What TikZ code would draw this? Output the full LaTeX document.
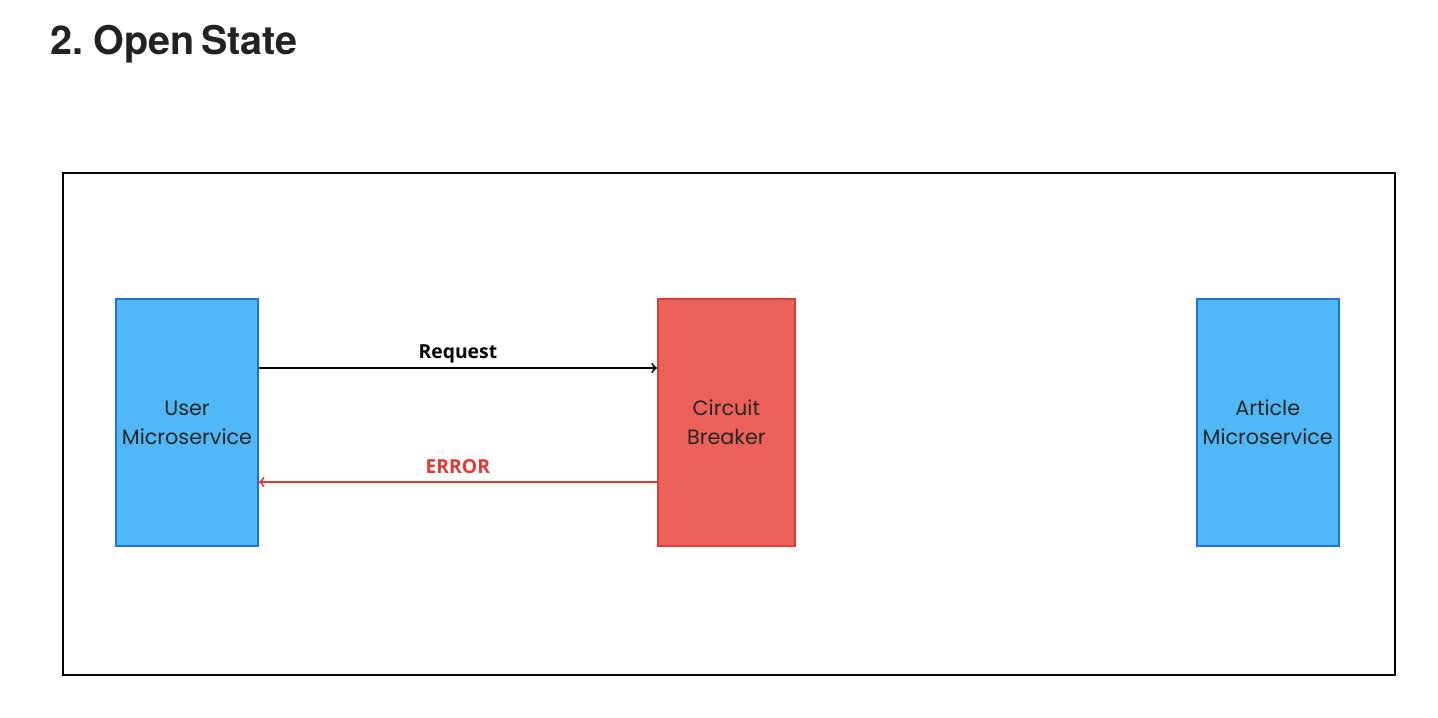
\documentclass[tikz,border=0pt]{standalone}
\usepackage{fontspec}
\usepackage{tikz}
\usetikzlibrary{arrows,calc,positioning}
\newfontfamily\boxfont{Poppins}
\newfontfamily\labelfont{Open Sans}
\newfontfamily\titlefont[WordSpace=0.6]{TeX Gyre Heros}
\definecolor{svcfill}{HTML}{50B8F7}
\definecolor{svcdraw}{HTML}{1E74D6}
\definecolor{cbfill}{HTML}{EC625A}
\definecolor{cbdraw}{HTML}{D8403A}
\definecolor{errred}{HTML}{DE3B35}
\definecolor{titlegray}{HTML}{222222}

\begin{document}
\begin{tikzpicture}[
    auto,
    svcbox/.style={rectangle, draw=svcdraw, fill=svcfill, line width=1.1pt,
        minimum width=2.74cm, minimum height=4.94cm, align=center,
        font=\boxfont\fontsize{11.8}{16.4}\selectfont, text=black!85},
    cbbox/.style={svcbox, draw=cbdraw, fill=cbfill},
    msg/.style={line width=1.1pt, ->, >=to},
    msglabel/.style={font=\labelfont\bfseries\fontsize{11}{12}\selectfont, inner sep=2pt}]
\useasboundingbox (0,0) rectangle (28.76,-14.36);
\node[anchor=base west, inner sep=0, text=titlegray,
    font=\titlefont\bfseries\fontsize{22.5}{26}\selectfont] (title) at (1.0,-1.1) {2. Open State};
\draw[line width=1.1pt] (1.26,-3.46) rectangle (27.9,-13.5);

\node[svcbox] (user) at (3.74,-8.45) {User\\Microservice};
\node[cbbox, right=7.96cm of user] (breaker) {Circuit\\Breaker};
\node[svcbox, right=8.0cm of breaker] (article) {Article\\Microservice};

% request goes in, error comes back
\draw[msg] ([yshift=1.09cm]user.east) -- node[msglabel, above] (reqlabel) {Request} ([yshift=1.09cm]breaker.west);
\draw[msg, errred] ([yshift=-1.19cm]breaker.west) -- node[msglabel, above, swap, text=errred, yshift=2pt] (errlabel) {ERROR} ([yshift=-1.19cm]user.east);

\end{tikzpicture}
\end{document}
